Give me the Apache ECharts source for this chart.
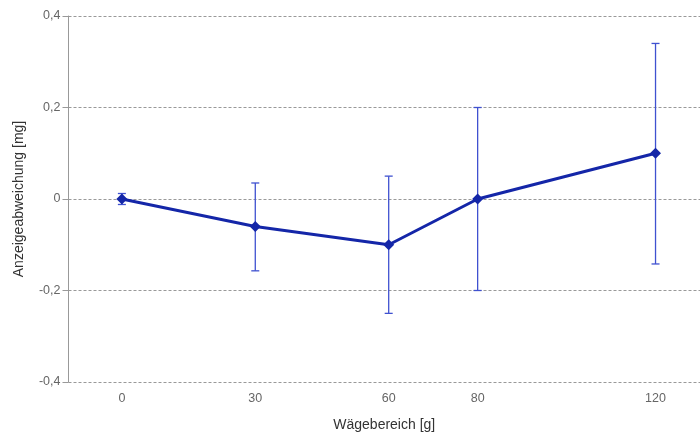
<!DOCTYPE html>
<html><head><meta charset="utf-8">
<script src="https://cdn.jsdelivr.net/npm/echarts@6/dist/echarts.min.js"></script>
<style>html,body{margin:0;padding:0;background:#fff}#c{width:700px;height:434px}</style>
</head><body><div id="c"></div>
<script>
const xValues = [0, 30, 60, 80, 120];
const yValues = [0, -0.06, -0.1, 0, 0.1];
const errLow = [-0.012, -0.157, -0.25, -0.2, -0.142];
const errHigh = [0.012, 0.035, 0.05, 0.2, 0.34];
const xTicks = [0, 30, 60, 80, 120];

const chart = echarts.init(document.getElementById('c'));
const lineData = xValues.map((x, i) => [x, yValues[i]]);
const errData = xValues.map((x, i) => [x, errLow[i], errHigh[i]]);
chart.setOption({
  animation: false,
  grid: { left: 68.5, right: 0, top: 16, bottom: 52, outerBoundsMode: 'none', containLabel: false },
  xAxis: {
    type: 'value', min: -12, max: 130,
    name: 'Wägebereich [g]', nameLocation: 'middle', nameGap: 36,
    nameTextStyle: { color: '#333', fontSize: 14, fontFamily: 'Liberation Sans' },
    axisLine: { show: false },
    axisTick: { show: true, customValues: xTicks, length: 4, lineStyle: { color: '#bbb' } },
    axisLabel: { customValues: xTicks, color: '#666', fontSize: 12.5, margin: 10, fontFamily: 'Liberation Sans' },
    splitLine: { show: false }
  },
  yAxis: {
    type: 'value', min: -0.4, max: 0.4, interval: 0.2,
    name: 'Anzeigeabweichung [mg]', nameLocation: 'middle', nameGap: 42,
    nameTextStyle: { color: '#333', fontSize: 14, fontFamily: 'Liberation Sans' },
    axisLine: { show: true, onZero: false, lineStyle: { color: '#999' } },
    axisTick: { show: true, length: 6, lineStyle: { color: '#999' } },
    axisLabel: { color: '#666', fontSize: 12.5, margin: 8, fontFamily: 'Liberation Sans',
      formatter: v => String(Math.round(v * 10) / 10).replace('.', ',') },
    splitLine: { show: true, lineStyle: { color: '#999', type: [3, 2], width: 1 } }
  },
  series: [
    {
      type: 'custom',
      data: errData,
      z: 1,
      renderItem: function (params, api) {
        const x = api.value(0);
        const lo = api.coord([x, api.value(1)]);
        const hi = api.coord([x, api.value(2)]);
        const w = 4;
        const st = { stroke: '#3f51d0', lineWidth: 1.3 };
        return {
          type: 'group',
          children: [
            { type: 'line', shape: { x1: lo[0], y1: lo[1], x2: hi[0], y2: hi[1] }, style: st },
            { type: 'line', shape: { x1: lo[0] - w, y1: lo[1], x2: lo[0] + w, y2: lo[1] }, style: st },
            { type: 'line', shape: { x1: hi[0] - w, y1: hi[1], x2: hi[0] + w, y2: hi[1] }, style: st }
          ]
        };
      }
    },
    {
      type: 'line',
      data: lineData,
      z: 2,
      symbol: 'diamond', symbolSize: 11,
      lineStyle: { color: '#1426a8', width: 3 },
      itemStyle: { color: '#1426a8' }
    }
  ]
});
</script></body></html>
